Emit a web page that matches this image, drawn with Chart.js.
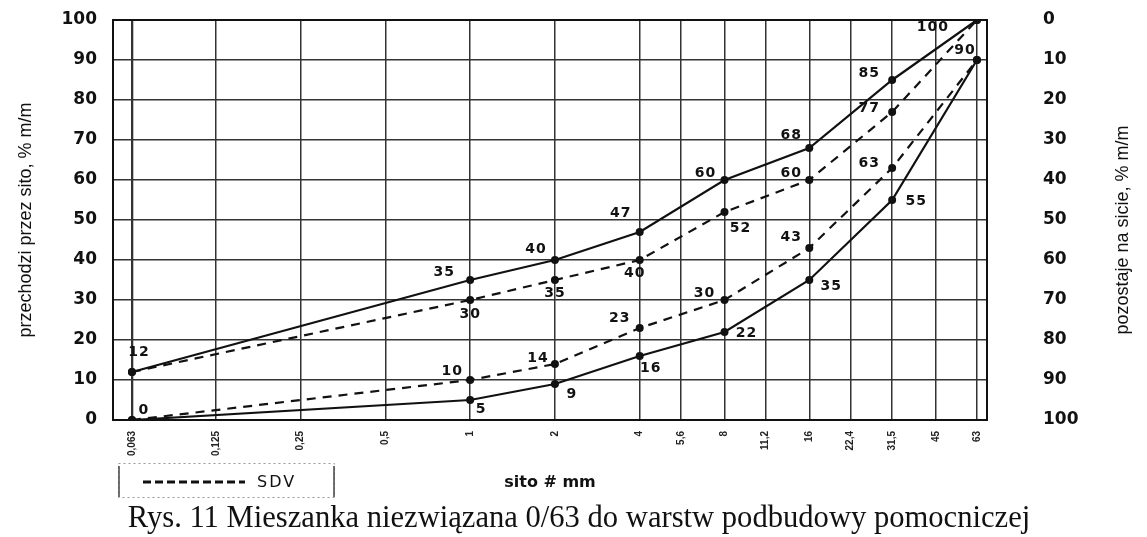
<!DOCTYPE html>
<html>
<head>
<meta charset="utf-8">
<script src="https://cdn.jsdelivr.net/npm/chart.js@4"></script>
<style>
  html, body { margin: 0; padding: 0; background: #fff; }
  canvas { display: block; }
</style>
</head>
<body>
<canvas id="sieveChart" width="1147" height="537"></canvas>
<script>
// sieve sizes (mm) and their labels on the x axis
const sieves = [0.063, 0.125, 0.25, 0.5, 1, 2, 4, 5.6, 8, 11.2, 16, 22.4, 31.5, 45, 63];
const sieveLabels = ['0,063', '0,125', '0,25', '0,5', '1', '2', '4', '5,6', '8', '11,2', '16', '22,4', '31,5', '45', '63'];

// sieves where the curves have points
const pointSieves = [0.063, 1, 2, 4, 8, 16, 31.5, 63];
const upperLimit = [12, 35, 40, 47, 60, 68, 85, 100];
const lowerLimit = [0, 5, 9, 16, 22, 35, 55, 90];
const upperSdv = [12, 30, 35, 40, 52, 60, 77, 100];
const lowerSdv = [0, 10, 14, 23, 30, 43, 63, 90];

// where each value label sits relative to its point (px), null = no label
const upperLimitLabelPos = [[7, -20], [-26, -8], [-19, -11], [-19, -19], [-19, -7], [-18, -13], [-23, -7], [-44, 7]];
const lowerLimitLabelPos = [[12, -10], [11, 9], [17, 10], [11, 12], [22, 1], [22, 6], [24, 1], [-12, -10]];
const upperSdvLabelPos = [null, [0, 14], [0, 13], [-5, 13], [16, 16], [-18, -7], [-23, -4], null];
const lowerSdvLabelPos = [null, [-18, -9], [-17, -6], [-20, -10], [-20, -7], [-18, -11], [-23, -5], null];

const toPoints = (values) => pointSieves.map((x, i) => ({ x: x, y: values[i] }));

const solidLine = (label, values, labelPos) => ({
  label: label,
  data: toPoints(values),
  labelPos: labelPos,
  borderColor: '#111',
  backgroundColor: '#111',
  borderWidth: 2.2,
  pointRadius: 4,
  pointBackgroundColor: '#111',
  pointBorderWidth: 0,
  tension: 0,
});

const dashedLine = (label, values, labelPos) => ({
  ...solidLine(label, values, labelPos),
  borderDash: [9, 7],
});

const pointLabels = {
  id: 'pointLabels',
  afterDatasetsDraw(chart) {
    const ctx = chart.ctx;
    ctx.save();
    ctx.font = 'bold 14px "DejaVu Sans"';
    ctx.letterSpacing = '1px';
    ctx.fillStyle = '#111';
    ctx.textAlign = 'center';
    ctx.textBaseline = 'middle';
    chart.data.datasets.forEach((ds, di) => {
      const meta = chart.getDatasetMeta(di);
      meta.data.forEach((pt, i) => {
        const off = ds.labelPos[i];
        if (!off) return;
        ctx.fillText(String(ds.data[i].y), pt.x + off[0], pt.y + off[1]);
      });
    });
    ctx.restore();
  },
};

const extras = {
  id: 'extras',
  afterDraw(chart) {
    const ctx = chart.ctx;
    const area = chart.chartArea;
    ctx.save();

    // frame around the plot
    ctx.strokeStyle = '#111';
    ctx.lineWidth = 2;
    ctx.strokeRect(area.left, area.top, area.right - area.left, area.bottom - area.top);

    // right axis title, read bottom to top
    ctx.save();
    ctx.translate(1123, 230);
    ctx.rotate(-Math.PI / 2);
    ctx.font = '18px "Liberation Sans"';
    ctx.fillStyle = '#111';
    ctx.textAlign = 'center';
    ctx.textBaseline = 'middle';
    ctx.fillText('pozostaje na sicie, % m/m', 0, 0);
    ctx.restore();

    // legend box
    ctx.setLineDash([2, 3]);
    ctx.strokeStyle = '#999';
    ctx.lineWidth = 1;
    ctx.strokeRect(118.5, 463.5, 216, 34);
    ctx.setLineDash([]);
    ctx.strokeStyle = '#444';
    ctx.lineWidth = 1.5;
    ctx.beginPath();
    ctx.moveTo(119, 466);
    ctx.lineTo(119, 497);
    ctx.moveTo(334, 466);
    ctx.lineTo(334, 497);
    ctx.stroke();
    ctx.setLineDash([8, 4]);
    ctx.strokeStyle = '#111';
    ctx.lineWidth = 3;
    ctx.beginPath();
    ctx.moveTo(143, 482);
    ctx.lineTo(245, 482);
    ctx.stroke();
    ctx.setLineDash([]);
    ctx.font = '16px "DejaVu Sans"';
    ctx.letterSpacing = '2px';
    ctx.fillStyle = '#111';
    ctx.textAlign = 'left';
    ctx.textBaseline = 'middle';
    ctx.fillText('SDV', 257, 483);

    // caption
    ctx.letterSpacing = '0px';
    ctx.font = '30.6px "Liberation Serif"';
    ctx.textAlign = 'center';
    ctx.textBaseline = 'alphabetic';
    ctx.fillText('Rys. 11 Mieszanka niezwiązana 0/63 do warstw podbudowy pomocniczej', 579, 527);

    ctx.restore();
  },
};

const ctx = document.getElementById('sieveChart').getContext('2d');
const chart = new Chart(ctx, {
  type: 'line',
  data: {
    datasets: [
      solidLine('upper', upperLimit, upperLimitLabelPos),
      solidLine('lower', lowerLimit, lowerLimitLabelPos),
      dashedLine('SDV', upperSdv, upperSdvLabelPos),
      dashedLine('SDV lower', lowerSdv, lowerSdvLabelPos),
    ],
  },
  options: {
    responsive: false,
    animation: false,
    layout: { padding: { top: 20, left: 0, right: 0, bottom: 0 } },
    plugins: {
      legend: { display: false },
      tooltip: { enabled: false },
    },
    scales: {
      x: {
        type: 'logarithmic',
        min: 0.05395,
        max: 68.4,
        afterBuildTicks: (scale) => {
          scale.ticks = sieves.map((v) => ({ value: v }));
        },
        afterFit: (scale) => {
          scale.height = 117;
          scale.paddingLeft = 0;
          scale.paddingRight = 0;
        },
        grid: {
          color: '#333',
          lineWidth: (c) => (c.tick && c.tick.value === 0.063 ? 2.3 : 1.5),
          drawTicks: false,
        },
        border: { display: false },
        ticks: {
          autoSkip: false,
          minRotation: 90,
          maxRotation: 90,
          padding: 11,
          color: '#222',
          font: { family: 'Liberation Sans', size: 10, weight: 'bold' },
          callback: (val, i) => sieveLabels[i],
        },
        title: {
          display: true,
          text: 'sito # mm',
          color: '#111',
          font: { family: 'DejaVu Sans', size: 16, weight: 'bold' },
          padding: { top: 0, bottom: 45 },
        },
      },
      y: {
        position: 'left',
        min: 0,
        max: 100,
        afterFit: (scale) => {
          scale.width = 113;
          scale.paddingTop = 0;
          scale.paddingBottom = 0;
        },
        grid: { color: '#333', lineWidth: 1.5, drawTicks: false },
        border: { display: false },
        ticks: {
          stepSize: 10,
          padding: 16,
          color: '#111',
          font: { family: 'DejaVu Sans', size: 17, weight: 'bold' },
        },
        title: {
          display: true,
          text: 'przechodzi przez sito, % m/m',
          color: '#111',
          font: { family: 'Liberation Sans', size: 18 },
          padding: { top: 15, bottom: 0 },
        },
      },
      y2: {
        position: 'right',
        min: 0,
        max: 100,
        reverse: true,
        afterFit: (scale) => {
          scale.width = 160;
          scale.paddingTop = 0;
          scale.paddingBottom = 0;
        },
        grid: { drawOnChartArea: false, drawTicks: false },
        border: { display: false },
        ticks: {
          stepSize: 10,
          padding: 56,
          color: '#111',
          font: { family: 'DejaVu Sans', size: 17, weight: 'bold' },
        },
      },
    },
  },
  plugins: [pointLabels, extras],
});
</script>
</body>
</html>
